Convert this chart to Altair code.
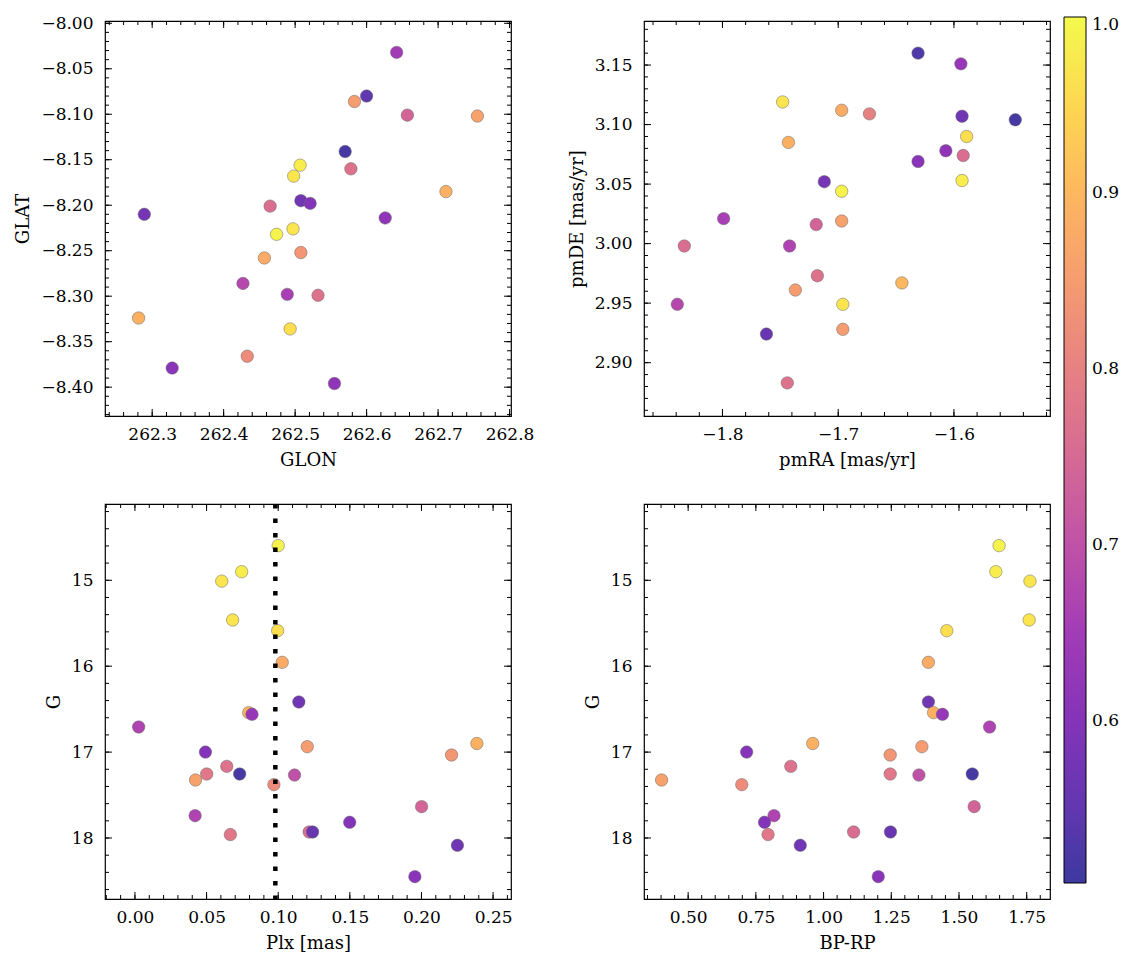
import altair as alt
import numpy as np
import pandas as pd

# ---------------- data ----------------
glon = [262.642, 262.600, 262.583, 262.657, 262.755, 262.570, 262.507, 262.578, 262.498,
        262.711, 262.465, 262.508, 262.521, 262.289, 262.626, 262.474, 262.497, 262.508,
        262.457, 262.427, 262.489, 262.532, 262.281, 262.493, 262.433, 262.328, 262.555]
glat = [-8.032, -8.080, -8.086, -8.101, -8.102, -8.141, -8.156, -8.160, -8.168,
        -8.185, -8.201, -8.195, -8.198, -8.210, -8.214, -8.232, -8.226, -8.252,
        -8.258, -8.286, -8.298, -8.299, -8.324, -8.336, -8.366, -8.379, -8.396]
prob_pos = [0.65, 0.55, 0.85, 0.74, 0.86, 0.52, 0.98, 0.77, 0.97,
            0.89, 0.76, 0.57, 0.60, 0.58, 0.62, 0.99, 0.97, 0.84,
            0.88, 0.68, 0.66, 0.77, 0.89, 0.96, 0.82, 0.61, 0.62]

pmra = [-1.631, -1.594, -1.748, -1.697, -1.673, -1.593, -1.547, -1.589, -1.743, -1.607,
        -1.592, -1.631, -1.593, -1.712, -1.697, -1.799, -1.697, -1.719, -1.833, -1.742,
        -1.718, -1.737, -1.645, -1.839, -1.696, -1.762, -1.696, -1.744]
pmde = [3.160, 3.151, 3.119, 3.112, 3.109, 3.107, 3.104, 3.090, 3.085, 3.078,
        3.074, 3.069, 3.053, 3.052, 3.044, 3.021, 3.019, 3.016, 2.998, 2.998,
        2.973, 2.961, 2.967, 2.949, 2.949, 2.924, 2.928, 2.883]
prob_pm = [0.53, 0.63, 0.97, 0.88, 0.80, 0.57, 0.52, 0.96, 0.89, 0.62,
           0.76, 0.61, 0.98, 0.58, 0.99, 0.66, 0.86, 0.74, 0.76, 0.67,
           0.77, 0.85, 0.90, 0.68, 0.97, 0.56, 0.85, 0.77]

plx = [0.1000, 0.0745, 0.0606, 0.0682, 0.0996, 0.1028, 0.1144, 0.0794, 0.0817, 0.0026,
       0.0492, 0.1203, 0.2387, 0.2210, 0.0641, 0.0501, 0.0731, 0.1114, 0.0423, 0.0970,
       0.2001, 0.0420, 0.1499, 0.0666, 0.1216, 0.1240, 0.2251, 0.1954]
g_mag = [14.597, 14.900, 15.010, 15.462, 15.587, 15.955, 16.417, 16.541, 16.560, 16.708,
         17.000, 16.937, 16.900, 17.034, 17.166, 17.255, 17.255, 17.267, 17.325, 17.379,
         17.635, 17.740, 17.817, 17.960, 17.930, 17.930, 18.085, 18.450]
bp_rp = [1.648, 1.636, 1.762, 1.759, 1.455, 1.387, 1.387, 1.406, 1.439, 1.613,
         0.716, 1.363, 0.960, 1.246, 0.879, 1.246, 1.549, 1.352, 0.402, 0.698,
         1.556, 0.817, 0.782, 0.795, 1.111, 1.247, 0.914, 1.202]
prob_cmd = [0.99, 0.98, 0.97, 0.97, 0.96, 0.88, 0.57, 0.89, 0.63, 0.67,
            0.60, 0.85, 0.89, 0.84, 0.77, 0.78, 0.52, 0.70, 0.86, 0.82,
            0.74, 0.67, 0.60, 0.78, 0.76, 0.56, 0.57, 0.61]

plx_cut = [0.098]

# tick labels
glon_ticks = [262.3, 262.4, 262.5, 262.6, 262.7, 262.8]
glat_ticks = [-8.40, -8.35, -8.30, -8.25, -8.20, -8.15, -8.10, -8.05, -8.00]
pmra_ticks = [-1.8, -1.7, -1.6]
pmde_ticks = [2.90, 2.95, 3.00, 3.05, 3.10, 3.15]
plx_ticks = [0.00, 0.05, 0.10, 0.15, 0.20, 0.25]
g_ticks = [15, 16, 17, 18]
bprp_ticks = [0.50, 0.75, 1.00, 1.25, 1.50, 1.75]
cbar_ticks = [0.6, 0.7, 0.8, 0.9, 1.0]

# ---------------- styling ----------------
W, H = 406, 395
FONT = "DejaVu Serif"
LFS, TFS = 17, 18
MAJ, MIN = 7, 4
cmin, cmax = 0.508, 1.0
# plasma, seen through alpha 0.8 on white
plasma_soft = ["#3d399f", "#6736b1", "#8833b9", "#a53db6", "#c155a6", "#d66c93",
               "#e78381", "#f59d6f", "#fdb85e", "#fdd851", "#f3fa4d"]
cdomain = list(np.linspace(cmin, cmax, len(plasma_soft)))
cscale = alt.Scale(domain=cdomain, range=plasma_soft)
legend = alt.Legend(orient="none", legendX=959, legendY=-4, direction="vertical",
                    gradientLength=866, gradientThickness=22, values=cbar_ticks,
                    format=".1f", labelFont=FONT, labelFontSize=LFS, labelColor="black",
                    labelOffset=6, gradientStrokeColor="black", gradientStrokeWidth=1,
                    title=None)


def minor_ticks(dom, step):
    lo, hi = min(dom), max(dom)
    start = np.ceil(lo / step - 1e-9) * step
    vals = np.arange(start, hi + 1e-9, step)
    return [round(float(v), 6) for v in vals if lo <= v <= hi]


def tick_layer(vals, axis, xs, ys, xax, yax, side, length):
    d = pd.DataFrame({"t": vals})
    base = alt.Chart(d).mark_rule(color="black", strokeWidth=1)
    if axis == "x":
        enc = dict(x=alt.X("t:Q", scale=xs, axis=xax))
        if side == "bottom":
            enc.update(y=alt.value(H), y2=alt.value(H - length))
        else:
            enc.update(y=alt.value(0), y2=alt.value(length))
    else:
        enc = dict(y=alt.Y("t:Q", scale=ys, axis=yax))
        if side == "left":
            enc.update(x=alt.value(0), x2=alt.value(length))
        else:
            enc.update(x=alt.value(W), x2=alt.value(W - length))
    return base.encode(**enc)


def panel(xv, yv, pv, xdom, ydom, xmaj, xstep, ymaj, ystep, xtitle, ytitle,
          xfmt, yfmt, yrev=False, vline=None):
    df = pd.DataFrame({"xv": xv, "yv": yv, "prob": pv})
    xs = alt.Scale(domain=xdom, nice=False, zero=False)
    ys = alt.Scale(domain=ydom, nice=False, zero=False, reverse=yrev)
    axis_common = dict(ticks=False, tickSize=0, domain=False, grid=False,
                       labelFont=FONT, labelFontSize=LFS, labelColor="black",
                       titleFont=FONT, titleFontSize=TFS, titleFontWeight="normal",
                       titleColor="black")
    xax = alt.Axis(values=xmaj, format=xfmt, title=xtitle,
                   labelPadding=10, titlePadding=9, **axis_common)
    yax = alt.Axis(values=ymaj, format=yfmt, title=ytitle,
                   labelPadding=12, titlePadding=8, **axis_common)
    pts = alt.Chart(df).mark_circle(size=155, opacity=1, stroke="#666666",
                                    strokeWidth=0.5).encode(
        x=alt.X("xv:Q", scale=xs, axis=xax),
        y=alt.Y("yv:Q", scale=ys, axis=yax),
        color=alt.Color("prob:Q", scale=cscale, legend=legend),
    )
    layers = [pts]
    xmin = minor_ticks(xdom, xstep)
    ymin = minor_ticks(ydom, ystep)
    xmaj_in = [v for v in xmaj if min(xdom) <= v <= max(xdom)]
    ymaj_in = [v for v in ymaj if min(ydom) <= v <= max(ydom)]
    for side in ("bottom", "top"):
        layers.append(tick_layer(xmin, "x", xs, ys, xax, yax, side, MIN))
        layers.append(tick_layer(xmaj_in, "x", xs, ys, xax, yax, side, MAJ))
    for side in ("left", "right"):
        layers.append(tick_layer(ymin, "y", xs, ys, xax, yax, side, MIN))
        layers.append(tick_layer(ymaj_in, "y", xs, ys, xax, yax, side, MAJ))
    if vline is not None:
        layers.append(
            alt.Chart(pd.DataFrame({"cut": vline})).mark_rule(
                color="black", strokeWidth=4.5, strokeDash=[4.5, 10], strokeCap="butt"
            ).encode(x=alt.X("cut:Q", scale=xs, axis=xax))
        )
    return alt.layer(*layers).properties(width=W, height=H)


p1 = panel(glon, glat, prob_pos, [262.234, 262.802], [-8.4317, -7.9975],
           glon_ticks, 0.02, glat_ticks, 0.01, "GLON", "GLAT", ".1f", ".2f")
p2 = panel(pmra, pmde, prob_pm, [-1.8678, -1.517], [2.8552, 3.187],
           pmra_ticks, 0.02, pmde_ticks, 0.01, "pmRA [mas/yr]", "pmDE [mas/yr]",
           ".1f", ".2f")
p3 = panel(plx, g_mag, prob_cmd, [-0.0209, 0.2625], [14.112, 18.71],
           plx_ticks, 0.01, g_ticks, 0.2, "Plx [mas]", "G", ".2f", "d",
           yrev=True, vline=plx_cut)
p4 = panel(bp_rp, g_mag, prob_cmd, [0.337, 1.836], [14.112, 18.71],
           bprp_ticks, 0.05, g_ticks, 0.2, "BP-RP", "G", ".2f", "d", yrev=True)

chart = alt.concat(p1, p2, p3, p4, columns=2,
                   spacing={"row": 88, "column": 133},
                   bounds="flush").properties(
    padding={"left": 14, "top": 13, "right": 5, "bottom": 5},
    background="white",
).configure_view(stroke="black", strokeWidth=1.2)

chart.save("out.html", embed_options={"renderer": "svg", "actions": False})
